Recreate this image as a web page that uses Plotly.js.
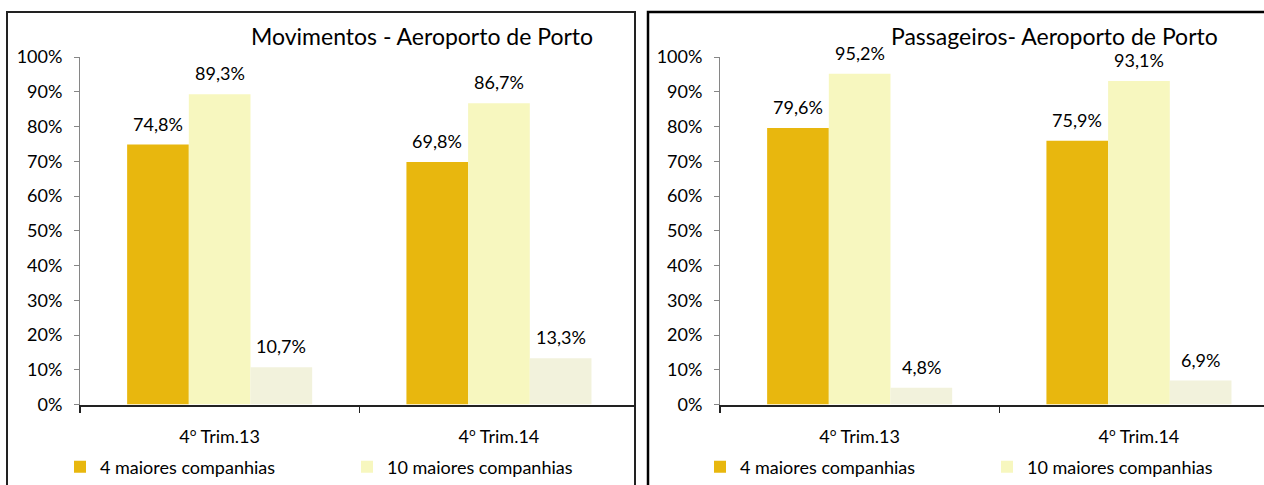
<!DOCTYPE html>
<html>
<head>
<meta charset="utf-8">
<script src="https://cdn.plot.ly/plotly-3.0.1.min.js"></script>
<style>html,body{margin:0;padding:0;background:#fff;}#chart{width:1264px;height:485px;}</style>
</head>
<body>
<div id="chart"></div>
<script>
// ---- data ----
const categories = ['4º Trim.13', '4º Trim.14'];
const seriesNames = ['4 maiores companhias', '10 maiores companhias', 'Restantes companhias'];
const movimentos4 = [0.748, 0.698];
const movimentos10 = [0.893, 0.867];
const movimentosRest = [0.107, 0.133];
const passageiros4 = [0.796, 0.759];
const passageiros10 = [0.952, 0.931];
const passageirosRest = [0.048, 0.069];
const panelTitles = ['Movimentos - Aeroporto de Porto', 'Passageiros- Aeroporto de Porto'];
const yTickValues = [0, 0.1, 0.2, 0.3, 0.4, 0.5, 0.6, 0.7, 0.8, 0.9, 1.0];

// ---- style ----
const W = 1264, H = 485;
const colors = ['#E8B70E', '#F7F7BF', '#F2F2DC'];
const FONT = 'Lato, "Open Sans", sans-serif';
const FS = 18;
const bargap = 0.3375;
const px = v => v / W;
const py = v => 1 - v / H;
const tickText = categories.map(c => c.replace('º', '<span style="font-family:\'Open Sans\'">º</span>'));

const panels = [
  {series: [movimentos4, movimentos10, movimentosRest], xa: 'x', ya: 'y', legend: 'legend',
   domain: [80, 634], catPx: 279.3, title: panelTitles[0], titleX: 422},
  {series: [passageiros4, passageiros10, passageirosRest], xa: 'x2', ya: 'y2', legend: 'legend2',
   domain: [720, 1264], catPx: 279.3, title: panelTitles[1], titleX: 1054}
];

const traces = [];
const annotations = [];
const shapes = [];
const layout = {
  width: W, height: H,
  margin: {l: 0, r: 0, t: 0, b: 0, autoexpand: false},
  paper_bgcolor: '#fff', plot_bgcolor: '#fff',
  font: {family: FONT, size: FS, color: '#000'},
  barmode: 'group', bargap: bargap, bargroupgap: 0,
  showlegend: true,
  annotations: annotations, shapes: shapes
};

const barW = (1 - bargap) / 3;

panels.forEach((p, pi) => {
  const sfx = pi === 0 ? '' : '2';
  p.series.forEach((vals, si) => {
    traces.push({
      type: 'bar', x: categories, y: vals, name: seriesNames[si],
      xaxis: p.xa, yaxis: p.ya, legend: p.legend,
      marker: {color: colors[si], line: {width: 0}},
      showlegend: si < 2, hoverinfo: 'skip'
    });
    vals.forEach((v, ci) => {
      annotations.push({
        xref: p.xa, yref: p.ya, x: ci + (si - 1) * barW, y: v,
        text: (v * 100).toFixed(1).replace('.', ',') + '%',
        showarrow: false, xanchor: 'center', yanchor: 'bottom', yshift: 8,
        font: {family: FONT, size: FS, color: '#000'}
      });
    });
  });
  const rangeEnd = -0.5 + (p.domain[1] - p.domain[0]) / p.catPx;
  layout['xaxis' + sfx] = {
    domain: [px(p.domain[0]), px(p.domain[1])], anchor: p.ya,
    type: 'category', range: [-0.5, rangeEnd], fixedrange: true,
    tickvals: categories, ticktext: tickText,
    showline: true, linecolor: '#222', linewidth: 2,
    ticks: 'outside', tickson: 'boundaries', ticklen: 6, tickcolor: '#222', tickwidth: 1.5,
    showgrid: false, zeroline: false, ticklabelstandoff: 15,
    tickfont: {family: FONT, size: FS, color: '#000'}
  };
  layout['yaxis' + sfx] = {
    domain: [py(404.5), py(57)], anchor: p.xa,
    range: [0, 1], tickvals: yTickValues, tickformat: '.0%', fixedrange: true,
    showline: true, linecolor: '#868686', linewidth: 1,
    ticks: 'outside', ticklen: 5, tickcolor: '#868686',
    showgrid: false, zeroline: false, ticklabelstandoff: 8,
    tickfont: {family: FONT, size: FS, color: '#000'}
  };
  layout[p.legend] = {
    orientation: 'h', x: px(p.domain[0] - 20), xanchor: 'left', y: py(467), yanchor: 'middle',
    entrywidth: 242, entrywidthmode: 'pixels', bgcolor: 'rgba(0,0,0,0)',
    font: {family: FONT, size: FS, color: '#000'}, traceorder: 'normal'
  };
  annotations.push({
    xref: 'paper', yref: 'paper', x: px(p.titleX), y: py(36), xanchor: 'center', yanchor: 'middle',
    text: p.title, showarrow: false, font: {family: FONT, size: 23, color: '#000'}
  });
});

// panel borders
shapes.push({type: 'rect', xref: 'paper', yref: 'paper', x0: px(7), x1: px(635), y0: py(520), y1: py(12),
  line: {color: '#222', width: 2}, layer: 'above'});
shapes.push({type: 'rect', xref: 'paper', yref: 'paper', x0: px(648), x1: px(1290), y0: py(520), y1: py(12),
  line: {color: '#000', width: 2.5}, layer: 'above'});

Plotly.newPlot('chart', traces, layout, {displayModeBar: false, staticPlot: true});
</script>
</body>
</html>
